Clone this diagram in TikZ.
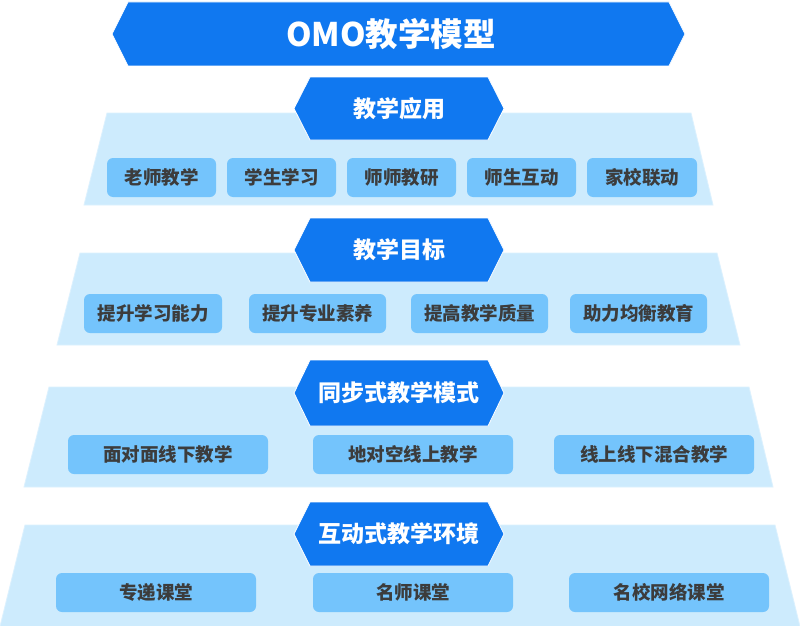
\documentclass[tikz,border=0pt]{standalone}
\usepackage{fontspec}
\newfontfamily\cjk{Noto Sans CJK SC}
\definecolor{hexblue}{HTML}{1078F0}
\definecolor{panelbg}{HTML}{CDEBFD}
\definecolor{panelline}{HTML}{DCF1FE}
\definecolor{boxbg}{HTML}{74C4FC}
\definecolor{boxtext}{HTML}{3C3C3C}
\tikzset{
  panel/.style={fill=panelbg, draw=panelline, line width=0.8pt},
  hexshape/.style={fill=hexblue, draw=white, line width=0.8pt},
  hextext/.style={text=white, font=\cjk\bfseries\fontsize{23}{26}\selectfont, inner sep=0pt},
  titletext/.style={text=white, font=\cjk\bfseries\fontsize{32.5}{36}\selectfont, inner sep=0pt},
  itembox/.style={fill=boxbg, rounded corners=6pt, minimum height=39pt, inner sep=0pt,
    text=boxtext, font=\cjk\bfseries\fontsize{18.5}{21}\selectfont},
}
\newcommand{\hexat}[2]{% #1 top y, #2 bottom y
  \path[hexshape] (294,{(#1+#2)/2}) -- (310,#1) -- (488,#1) -- (504,{(#1+#2)/2}) -- (488,#2) -- (310,#2) -- cycle;}
\begin{document}
\begin{tikzpicture}[x=1pt,y=-1pt]
\useasboundingbox[fill=white] (0,0) rectangle (800,626);
% title banner
\path[hexshape] (112,34) -- (128,2) -- (669,2) -- (685,34) -- (669,66) -- (128,66) -- cycle;
\node[titletext] (title) at (391,34) {OMO教学模型};
% panels
\path[panel] (107,113) -- (691,113) -- (713,205) -- (84,205) -- cycle;
\path[panel] (80,253) -- (717,253) -- (740,345) -- (57,345) -- cycle;
\path[panel] (49,387) -- (749,387) -- (773,487) -- (24,487) -- cycle;
\path[panel] (25,525) -- (775,525) -- (800,626.5) -- (0,626.5) -- cycle;
% section headers
\hexat{77}{140}
\node[hextext] (h1) at (399,108.5) {教学应用};
\hexat{218}{282}
\node[hextext] (h2) at (399,250) {教学目标};
\hexat{360}{426}
\node[hextext] (h3) at (399,393) {同步式教学模式};
\hexat{502}{566}
\node[hextext] (h4) at (399,534) {互动式教学环境};
% row 1
\node[itembox, minimum width=109pt] (r1a) at (161.5,177.5) {老师教学};
\node[itembox, minimum width=109pt] (r1b) at (281.5,177.5) {学生学习};
\node[itembox, minimum width=109pt] (r1c) at (401.5,177.5) {师师教研};
\node[itembox, minimum width=109pt] (r1d) at (521.5,177.5) {师生互动};
\node[itembox, minimum width=110pt] (r1e) at (642,177.5) {家校联动};
% row 2
\node[itembox, minimum width=138pt] (r2a) at (153,313.5) {提升学习能力};
\node[itembox, minimum width=137pt] (r2b) at (317.5,313.5) {提升专业素养};
\node[itembox, minimum width=137pt] (r2c) at (479.5,313.5) {提高教学质量};
\node[itembox, minimum width=137pt] (r2d) at (638.5,313.5) {助力均衡教育};
% row 3
\node[itembox, minimum width=200pt] (r3a) at (168,454.5) {面对面线下教学};
\node[itembox, minimum width=200pt] (r3b) at (413,454.5) {地对空线上教学};
\node[itembox, minimum width=200pt] (r3c) at (654,454.5) {线上线下混合教学};
% row 4
\node[itembox, minimum width=200pt] (r4a) at (156,592.5) {专递课堂};
\node[itembox, minimum width=200pt] (r4b) at (413,592.5) {名师课堂};
\node[itembox, minimum width=200pt] (r4c) at (669,592.5) {名校网络课堂};
\end{tikzpicture}
\end{document}
